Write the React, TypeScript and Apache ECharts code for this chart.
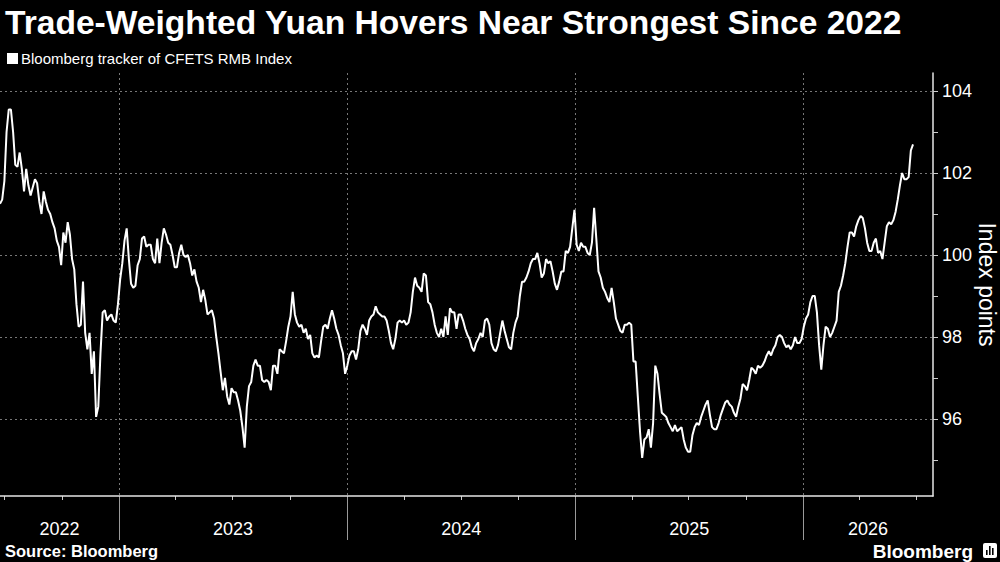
import React, { useEffect, useRef } from "react";
import * as echarts from "echarts";

// Observations every 3.5 days (twice weekly) starting on this date
const startDate = "2022-06-24";

const values2022 = [
  101.25, 101.35, 101.8, 103.0, 103.55, 103.55, 103.0, 102.2, 102.15, 102.5,
  102.1, 101.55, 102.1, 101.7, 101.45, 101.65, 101.85, 101.75, 101.3, 101.0,
  101.55, 101.3, 101.1, 101.0, 100.8, 100.65, 100.35, 100.2, 99.75, 100.55,
  100.3, 100.8, 100.5, 99.9, 99.65, 98.8, 98.25, 98.3, 99.35, 98.1,
  97.7, 98.1, 97.1, 97.65, 96.05, 96.3, 97.6, 98.6, 98.65, 98.4,
  98.5, 98.55, 98.4, 98.35, 98.8, 99.4,
];
const values2023 = [
  99.8, 100.35, 100.65, 99.9, 99.3, 99.2, 99.25, 99.75, 99.9, 100.4,
  100.45, 100.2, 100.25, 100.25, 99.9, 99.8, 100.4, 99.8, 100.3, 100.65,
  100.5, 100.3, 100.25, 100.0, 99.7, 99.7, 100.05, 100.25, 100.0, 99.95,
  100.0, 99.8, 99.5, 99.65, 99.35, 99.2, 98.85, 99.15, 98.9, 98.55,
  98.6, 98.65, 98.45, 98.0, 97.6, 97.15, 96.7, 97.0, 96.55, 96.35,
  96.75, 96.65, 96.65, 96.45, 96.2, 95.8, 95.3, 96.3, 96.8, 96.9,
  97.3, 97.45, 97.3, 97.3, 96.95, 96.9, 96.95, 96.9, 96.7, 97.3,
  97.3, 97.1, 97.7, 97.65, 97.6, 97.9, 98.25, 98.5, 99.1, 98.55,
  98.35, 98.25, 98.3, 98.1, 98.2, 97.95, 98.05, 97.6, 97.5, 97.55,
  97.5, 97.9, 98.25, 98.3, 98.2, 98.45, 98.65, 98.45, 98.2, 98.05,
  97.8, 97.6, 97.1, 97.3,
];
const values2024 = [
  97.55, 97.65, 97.65, 97.45, 97.7, 98.15, 98.3, 98.2, 98.05, 98.4,
  98.5, 98.55, 98.75, 98.6, 98.55, 98.5, 98.5, 98.4, 98.15, 97.85,
  97.7, 97.95, 98.35, 98.4, 98.35, 98.4, 98.3, 98.35, 98.6, 99.1,
  99.45, 99.25, 99.2, 99.1, 99.55, 99.5, 98.85, 98.8, 98.6, 98.3,
  98.1, 98.0, 98.2, 98.0, 98.5, 98.05, 98.7, 98.6, 98.6, 98.2,
  98.55, 98.55, 98.4, 98.2, 98.05, 97.95, 97.75, 97.65, 97.85, 97.95,
  98.1, 98.0, 98.4, 98.45, 98.3, 97.85, 97.7, 97.65, 97.8, 98.1,
  98.4, 98.15, 97.95, 97.75, 97.7, 98.1, 98.35, 98.5, 99.0, 99.35,
  99.35, 99.45, 99.6, 99.8, 99.9, 99.9, 100.05, 99.8, 99.45, 99.55,
  99.9, 99.8, 99.85, 99.6, 99.3, 99.15, 99.35, 99.6, 99.6, 100.1,
  100.05, 100.2, 100.65, 101.1,
];
const values2025 = [
  100.25, 100.1, 100.3, 100.2, 100.2, 100.05, 100.0, 100.3, 101.15, 100.4,
  99.6, 99.45, 99.2, 99.1, 98.95, 98.85, 99.2, 98.85, 98.45, 98.3,
  98.15, 98.1, 98.3, 98.3, 98.35, 98.3, 97.4, 97.4, 96.55, 95.7,
  95.05, 95.5, 95.55, 95.75, 95.3, 95.9, 97.3, 97.1, 96.6, 96.15,
  96.1, 96.05, 95.9, 95.8, 95.7, 95.85, 95.7, 95.75, 95.8, 95.5,
  95.3, 95.2, 95.2, 95.6, 95.8, 95.9, 95.85, 96.05, 96.2, 96.35,
  96.45, 96.1, 95.8, 95.75, 95.75, 95.9, 96.1, 96.25, 96.4, 96.45,
  96.35, 96.3, 96.15, 96.05, 96.3, 96.5, 96.85, 96.8, 96.7, 96.95,
  97.25, 97.2, 97.1, 97.3, 97.25, 97.3, 97.4, 97.55, 97.65, 97.55,
  97.7, 97.8, 98.0, 98.05, 98.0, 97.85, 97.75, 97.8, 97.7, 97.8,
  98.0, 97.85, 97.85, 97.95,
];
const values2026 = [
  98.25, 98.45, 98.55, 98.85, 99.0, 99.0, 98.6, 97.8, 97.2, 97.8,
  98.25, 98.2, 98.0, 98.1, 98.25, 98.4, 99.1, 99.25, 99.5, 99.8,
  100.2, 100.55, 100.55, 100.45, 100.7, 100.85, 100.95, 100.9, 100.65, 100.3,
  100.1, 100.1, 100.3, 100.4, 100.05, 100.1, 99.9, 100.3, 100.7, 100.8,
  100.75, 100.85, 101.05, 101.35, 101.7, 102.0, 101.85, 101.85, 101.9, 102.55,
  102.7,
];

const quarterTicks = [
  "2022-07-01", "2022-10-01",
  "2023-01-01", "2023-04-01", "2023-07-01", "2023-10-01",
  "2024-01-01", "2024-04-01", "2024-07-01", "2024-10-01",
  "2025-01-01", "2025-04-01", "2025-07-01", "2025-10-01",
  "2026-01-01", "2026-04-01", "2026-07-01",
];
const yearStarts = ["2023-01-01", "2024-01-01", "2025-01-01", "2026-01-01"];
const yearLabels = ["2022", "2023", "2024", "2025", "2026"];
const yTickValues = [95, 96, 97, 98, 99, 100, 101, 102, 103, 104];
const yLabelValues = [96, 98, 100, 102, 104];

const X_MIN = "2022-06-24";
const X_MAX = "2026-07-28";
const Y_MIN = 94.12;
const Y_MAX = 104.44;

const FONT = "'Liberation Sans', Arial, sans-serif";
const HOUR = 3600000;

export default function App() {
  const ref = useRef<HTMLDivElement>(null);

  useEffect(() => {
    if (!ref.current) return;
    const chart = echarts.init(ref.current, null, { renderer: "svg" });

    const allValues = [
      ...values2022, ...values2023, ...values2024, ...values2025, ...values2026,
    ];
    const t0 = new Date(startDate).getTime();
    const lineData = allValues.map((v, i) => [t0 + i * 84 * HOUR, v]);

    const xMin = new Date(X_MIN).getTime();
    const xMax = new Date(X_MAX).getTime();

    const tickData = quarterTicks.map((d) => [
      new Date(d).getTime(),
      d.endsWith("-01-01") ? 1 : 0,
    ]);

    const labelData = yearLabels.map((y) => {
      const s = Math.max(new Date(`${y}-01-01`).getTime(), xMin);
      const e = Math.min(new Date(`${Number(y) + 1}-01-01`).getTime(), xMax);
      return [(s + e) / 2, y];
    });

    const gridLine = () => ({ color: "#777777", type: [2, 3], width: 1 });

    chart.setOption({
      animation: false,
      backgroundColor: "#000000",
      grid: {
        left: 0,
        right: 67,
        top: 73,
        bottom: 66,
        containLabel: false,
        outerBoundsContain: "axisLabel",
        outerBounds: { left: -60, right: -60, top: -60, bottom: -60 },
      },
      xAxis: [
        {
          type: "time",
          min: xMin,
          max: xMax,
          axisLine: { show: true, lineStyle: { color: "#e6e6e6", width: 1.5 } },
          axisTick: { show: false },
          axisLabel: { show: false },
          splitLine: { show: false },
          z: 5,
        },
        {
          // carries only the dashed year gridlines
          type: "time",
          min: xMin,
          max: xMax,
          position: "bottom",
          axisLine: { show: false },
          axisTick: {
            show: false,
            customValues: yearStarts.map((d) => new Date(d).getTime()),
          },
          axisLabel: { show: false },
          splitLine: { show: true, lineStyle: gridLine() },
        },
      ],
      yAxis: [
        {
          type: "value",
          position: "right",
          min: Y_MIN,
          max: Y_MAX,
          axisLine: { show: true, lineStyle: { color: "#e6e6e6", width: 1.5 } },
          axisTick: {
            show: true,
            length: 5,
            lineStyle: { color: "#cccccc" },
            customValues: yTickValues,
          },
          axisLabel: {
            color: "#ffffff",
            fontSize: 18,
            fontFamily: FONT,
            margin: 9,
            customValues: yLabelValues,
          },
          splitLine: { show: false },
          name: "Index points",
          nameLocation: "middle",
          nameRotate: -90,
          nameGap: 42,
          nameMoveOverlap: false,
          nameTextStyle: { color: "#ffffff", fontSize: 23, fontFamily: FONT },
        },
        {
          // carries only the dashed value gridlines
          type: "value",
          position: "right",
          min: Y_MIN,
          max: Y_MAX,
          axisLine: { show: false },
          axisTick: { show: false, customValues: yLabelValues },
          axisLabel: { show: false },
          splitLine: { show: true, lineStyle: gridLine() },
        },
      ],
      graphic: [
        {
          type: "text",
          left: 5,
          top: 5,
          style: {
            text: "Trade-Weighted Yuan Hovers Near Strongest Since 2022",
            fill: "#ffffff",
            font: `bold 33.6px ${FONT}`,
          },
        },
        {
          type: "rect",
          shape: { x: 7, y: 53, width: 11, height: 11 },
          style: { fill: "#ffffff" },
        },
        {
          type: "text",
          x: 21,
          y: 58.5,
          style: {
            text: "Bloomberg tracker of CFETS RMB Index",
            fill: "#ffffff",
            font: `15px ${FONT}`,
            textVerticalAlign: "middle",
            verticalAlign: "middle",
          },
        },
        {
          type: "text",
          x: 5,
          y: 551,
          style: {
            text: "Source: Bloomberg",
            fill: "#ffffff",
            font: `bold 16.5px ${FONT}`,
            textVerticalAlign: "middle",
            verticalAlign: "middle",
          },
        },
        {
          type: "text",
          x: 973,
          y: 551,
          style: {
            text: "Bloomberg",
            fill: "#ffffff",
            font: `bold 19px ${FONT}`,
            textAlign: "right",
            align: "right",
            textVerticalAlign: "middle",
            verticalAlign: "middle",
          },
        },
        {
          type: "group",
          x: 983,
          y: 543,
          children: [
            { type: "rect", shape: { x: 0, y: 0, width: 14, height: 15, r: 2 }, style: { fill: "#ffffff" } },
            { type: "rect", shape: { x: 3, y: 7, width: 1.6, height: 5 }, style: { fill: "#000000" } },
            { type: "rect", shape: { x: 6, y: 3, width: 1.6, height: 9 }, style: { fill: "#000000" } },
            { type: "rect", shape: { x: 9, y: 5, width: 1.6, height: 7 }, style: { fill: "#000000" } },
          ],
        },
      ],
      series: [
        {
          type: "custom",
          coordinateSystem: "cartesian2d",
          clip: false,
          silent: true,
          z: 1,
          data: tickData,
          renderItem: (params: any, api: any) => {
            const t = api.value(0);
            const major = api.value(1) === 1;
            const p = api.coord([t, Y_MIN]);
            const cs = params.coordSys;
            const bottom = cs.y + cs.height;
            const x = Math.round(p[0]) + 0.5;
            return {
              type: "line",
              shape: { x1: x, y1: bottom, x2: x, y2: bottom + (major ? 44 : 4) },
              style: { stroke: major ? "#9a9a9a" : "#cccccc", lineWidth: 1 },
            };
          },
        },
        {
          type: "custom",
          coordinateSystem: "cartesian2d",
          clip: false,
          silent: true,
          z: 1,
          data: labelData,
          renderItem: (params: any, api: any) => {
            const t = api.value(0);
            const p = api.coord([t, Y_MIN]);
            const cs = params.coordSys;
            const bottom = cs.y + cs.height;
            const idx = params.dataIndex;
            return {
              type: "text",
              x: p[0],
              y: bottom + 33,
              style: {
                text: yearLabels[idx],
                fill: "#ffffff",
                font: `18px ${FONT}`,
                textAlign: "center",
                align: "center",
                textVerticalAlign: "middle",
                verticalAlign: "middle",
              },
            };
          },
        },
        {
          type: "line",
          data: lineData,
          showSymbol: false,
          symbol: "none",
          z: 3,
          lineStyle: { color: "#ffffff", width: 2 },
        },
      ],
    });

    return () => chart.dispose();
  }, []);

  return (
    <div
      ref={ref}
      style={{
        position: "fixed",
        left: 0,
        top: 0,
        width: 1000,
        height: 562,
        background: "#000000",
      }}
    />
  );
}
